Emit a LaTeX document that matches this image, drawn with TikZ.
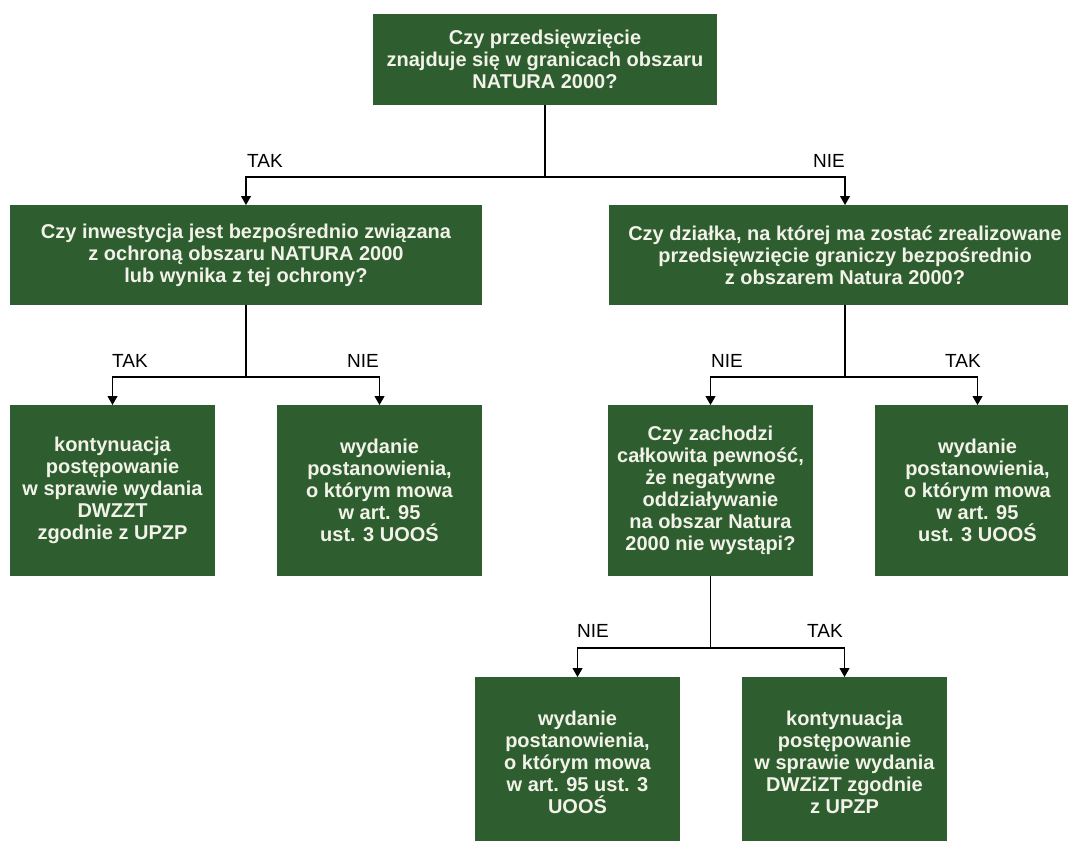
\documentclass[tikz,border=0pt]{standalone}
\usepackage{fontspec}
\setmainfont{Liberation Sans}
\usepackage{xcolor}
\usepackage{tikz}
\usetikzlibrary{arrows.meta}

\definecolor{boxgreen}{RGB}{46,94,47}
\definecolor{boxtext}{RGB}{242,242,232}

\begin{document}
\begin{tikzpicture}[x=0.75pt, y=-0.75pt,
    box/.style={fill=boxgreen, text=boxtext, inner sep=0pt, outer sep=0pt, align=center,
        font=\fontsize{15}{16.5}\selectfont\bfseries},
    wide/.style={box, minimum width=354pt, minimum height=75pt},
    leaf/.style={box, minimum width=153.75pt, minimum height=128.25pt},
    answer/.style={font=\fontsize{14.25}{16}\selectfont},
    conn/.style={line width=0.8pt},
    arr/.style={conn, -{Triangle[length=6.75pt, width=7.5pt]}}]
    % Canvas 1068x840 px, y grows downward
    \clip (0,0) rectangle (1068,840);

    % Level 0
    \node[box, minimum width=258pt, minimum height=68.25pt] (top) at (545,59.5)
        {Czy przedsięwzięcie\\znajduje się w granicach obszaru\\NATURA 2000?};

    % Level 1
    \node[wide] (ochrona) at (246,255)
        {Czy inwestycja jest bezpośrednio związana\\z ochroną obszaru NATURA 2000\\lub wynika z tej ochrony?};
    \node[wide] (dzialka) at (845,255)
        {Czy działka, na której ma zostać zrealizowane\\przedsięwzięcie graniczy bezpośrednio\\z obszarem Natura 2000?};

    % Level 2
    \node[leaf] (kontA) at (112.5,490.5)
        {kontynuacja\\postępowanie\\w sprawie wydania\\DWZZT\\zgodnie z UPZP};
    \node[leaf] (wydA) at (379.5,490.5)
        {wydanie\\postanowienia,\\o którym mowa\\w art. 95\\ust. 3 UOOŚ};
    \node[leaf] (pewnosc) at (710.5,490.5)
        {Czy zachodzi\\całkowita pewność,\\że negatywne\\oddziaływanie\\na obszar Natura\\2000 nie wystąpi?};
    \node[leaf] (wydB) at (977.5,490.5)
        {wydanie\\postanowienia,\\o którym mowa\\w art. 95\\ust. 3 UOOŚ};

    % Level 3
    \node[leaf] (wydC) at (577.5,762.5)
        {wydanie\\postanowienia,\\o którym mowa\\w art. 95 ust. 3\\UOOŚ};
    \node[leaf] (kontB) at (844.5,762.5)
        {kontynuacja\\postępowanie\\w sprawie wydania\\DWZiZT zgodnie\\z UPZP};

    % Junctions
    \coordinate (topJ) at (545,177);
    \coordinate (ochronaJ) at (246,377);
    \coordinate (dzialkaJ) at (845,377);
    \coordinate (pewnoscJ) at (710.5,648);

    % Connectors
    \draw[conn] (top) -- (topJ);
    \draw[arr] (topJ) -| (ochrona.north);
    \draw[arr] (topJ) -| (dzialka.north);

    \draw[conn] (ochrona) -- (ochronaJ);
    \draw[arr] (ochronaJ) -| (kontA.north);
    \draw[arr] (ochronaJ) -| (wydA.north);

    \draw[conn] (dzialka) -- (dzialkaJ);
    \draw[arr] (dzialkaJ) -| (pewnosc.north);
    \draw[arr] (dzialkaJ) -| (wydB.north);

    \draw[conn] (pewnosc) -- (pewnoscJ);
    \draw[arr] (pewnoscJ) -| (wydC.north);
    \draw[arr] (pewnoscJ) -| (kontB.north);

    % Answers
    \node[answer] (takTop) at (265,161) {TAK};
    \node[answer] (nieTop) at (829,161) {NIE};
    \node[answer] (takOchrona) at (130,361) {TAK};
    \node[answer] (nieOchrona) at (363,361) {NIE};
    \node[answer] (nieDzialka) at (727,361) {NIE};
    \node[answer] (takDzialka) at (963,361) {TAK};
    \node[answer] (niePewnosc) at (593,631) {NIE};
    \node[answer] (takPewnosc) at (825,631) {TAK};
\end{tikzpicture}
\end{document}
